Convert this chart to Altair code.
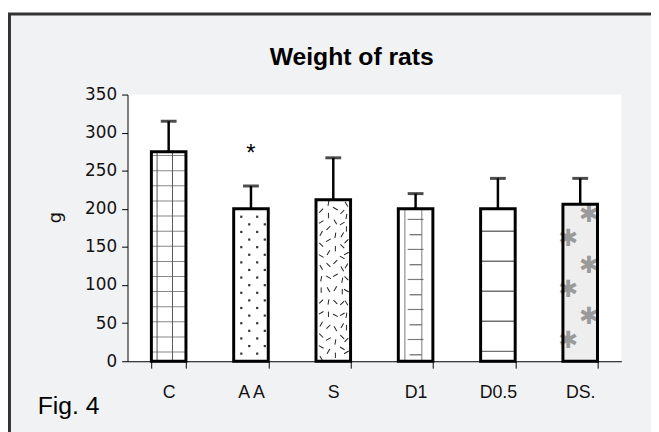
import altair as alt
import pandas as pd

# ---- data ----
CATS = ["C", "A A", "S", "D1", "D0.5", "DS."]
MEANS = [275, 200, 212, 200, 200, 206]
UPPER = [315, 230, 267, 220, 240, 240]
FILLS = ["#ffffff", "#ffffff", "#ffffff", "#ffffff", "#ffffff", "#eeeeee"]
STAR_CAT = "A A"
STAR_Y = 279
Y_TICKS = [0, 50, 100, 150, 200, 250, 300, 350]
TITLE = "Weight of rats"
Y_TITLE = "g"
FIG_LABEL = "Fig. 4"

W, H = 500, 270
YMAX = 350
PX = H / YMAX  # pixels per unit (pattern spacing only)

df = pd.DataFrame({"cat": CATS, "mean": MEANS, "upper": UPPER})
val = dict(zip(CATS, MEANS))

X_AXIS = alt.Axis(zindex=2, labelFont="Liberation Sans Narrow, Liberation Sans", labelFontSize=18,
                  tickSize=7, labelPadding=16, tickBand="extent", domainWidth=1, labelAngle=0,
                  domainColor="#000000", tickColor="#000000", labelColor="#111111")
Y_AXIS = alt.Axis(zindex=2, values=Y_TICKS, labelFont="DejaVu Sans", labelFontSize=17, tickSize=6,
                  labelPadding=5, domainWidth=1, domainColor="#000000", tickColor="#000000",
                  labelColor="#111111", titleFont="DejaVu Sans", titleFontSize=18,
                  titleFontWeight="normal", titleColor="#111111", titleX=-73, titleY=124,
                  titleAlign="center", titleBaseline="middle", titleAngle=270)


def X(bp=0.5):
    return alt.X("cat:N", sort=CATS, bandPosition=bp, title=None, axis=X_AXIS,
                 scale=alt.Scale(domain=CATS, paddingInner=0.58, paddingOuter=0.29))


def Y(field):
    return alt.Y(f"{field}:Q", title=Y_TITLE, axis=Y_AXIS,
                 scale=alt.Scale(domain=[0, YMAX], nice=False))


def steps(start_px, step_px, top):
    out = []
    v = start_px / PX
    while v < top - 2:
        out.append(round(v, 2))
        v += step_px / PX
    return out


layers = []

# frame + white plot area
one = alt.Data(values=[{"a": 1}])
layers.append(alt.Chart(one).mark_rect(fill="#f1f2f4", stroke="#333333", strokeWidth=3).encode(
    x=alt.value(-119.5), x2=alt.value(560), y=alt.value(-81.5), y2=alt.value(420)))
layers.append(alt.Chart(one).mark_rect(fill="#ffffff").encode(
    x=alt.value(0), x2=alt.value(W), y=alt.value(0), y2=alt.value(H)))

# bar fills
layers.append(alt.Chart(df).mark_bar(strokeWidth=0).encode(
    x=X(), y=Y("mean"),
    color=alt.Color("cat:N", scale=alt.Scale(domain=CATS, range=FILLS), legend=None)))


def hticks(cat, ys, bp, size, color, th=1):
    d = pd.DataFrame({"cat": cat, "yy": ys})
    return alt.Chart(d).mark_tick(color=color, size=size, thickness=th, orient="horizontal").encode(
        x=X(bp), y=Y("yy"))


def vline(cat, bp, color, w=1):
    d = pd.DataFrame({"cat": [cat], "y0": [0], "y1": [val[cat]]})
    return alt.Chart(d).mark_rule(color=color, strokeWidth=w).encode(
        x=X(bp), y=Y("y0"), y2="y1:Q")


# C : square grid
layers.append(hticks("C", steps(9.3, 15.3, val["C"]), 0.5, 34, "#555555"))
layers.append(vline("C", 0.165, "#555555"))
layers.append(vline("C", 0.61, "#555555"))

# A A : staggered dots
for j, bps in enumerate([[0.22, 0.68], [0.45, 0.9]]):
    ys = steps(7.7 + j * 7.7, 15.4, val["A A"])
    for bp in bps:
        d = pd.DataFrame({"cat": "A A", "yy": ys})
        layers.append(alt.Chart(d).mark_square(color="#333333", size=5, opacity=1).encode(
            x=X(bp), y=Y("yy")))

# S : scattered short dashes
S_BPS = [0.15, 0.36, 0.56, 0.76, 0.88]
S_ANG = [60, 120, 90, 30, 150, 100, 45, 135]
for j, bp in enumerate(S_BPS):
    ys = steps(3 + (j * 7) % 11, 11.5 + (j % 3), val["S"])
    angs = [S_ANG[(k * 3 + j) % len(S_ANG)] for k in range(len(ys))]
    d = pd.DataFrame({"cat": "S", "yy": ys, "ang": angs})
    layers.append(alt.Chart(d).mark_point(shape="stroke", color="#222222", size=30,
                                          strokeWidth=1, filled=False, opacity=1).encode(
        x=X(bp), y=Y("yy"), angle=alt.Angle("ang:Q", scale=None)))

# D1 : two vertical lines with alternating dashes
layers.append(vline("D1", 0.19, "#777777"))
layers.append(vline("D1", 0.68, "#777777"))
layers.append(hticks("D1", steps(22, 30.4, val["D1"]), 0.3, 16, "#444444", 1.2))
layers.append(hticks("D1", steps(6.5, 30.4, val["D1"]), 0.74, 12, "#222222", 1.2))

# D0.5 : widely spaced horizontal lines
layers.append(hticks("D0.5", steps(10, 30.4, val["D0.5"]), 0.5, 34, "#333333", 1.5))

# DS. : grey star motifs
v = val["DS."]
for bp, first in [(0.75, 14), (0.15, 46)]:
    ys = []
    y = v - first
    while y > 8:
        ys.append(y)
        y -= 67
    d = pd.DataFrame({"cat": "DS.", "yy": ys, "t": "✱"})
    layers.append(alt.Chart(d).mark_text(color="#9a9a9a", fontSize=24, font="DejaVu Sans",
                                         baseline="middle").encode(
        x=X(bp), y=Y("yy"), text="t:N"))

# bar outlines
layers.append(alt.Chart(df).mark_bar(fillOpacity=0, stroke="#000000", strokeWidth=3).encode(
    x=X(), y=Y("mean")))

# error bars
layers.append(alt.Chart(df).mark_rule(color="#000000", strokeWidth=2.5).encode(
    x=X(), y=Y("mean"), y2="upper:Q"))
layers.append(alt.Chart(df).mark_tick(color="#000000", size=16, thickness=3, orient="horizontal").encode(
    x=X(), y=Y("upper")))

# significance star
star = pd.DataFrame({"cat": [STAR_CAT], "yy": [STAR_Y], "t": ["*"]})
layers.append(alt.Chart(star).mark_text(fontSize=24, font="Liberation Sans", baseline="middle",
                                        dy=6, color="#000000").encode(
    x=X(), y=Y("yy"), text="t:N"))

# title and figure label
txt = pd.DataFrame({"title": [TITLE], "fig": [FIG_LABEL]})
layers.append(alt.Chart(txt).mark_text(fontSize=25, font="Liberation Sans", fontWeight="bold",
                                       align="center", baseline="alphabetic", color="#000000").encode(
    x=alt.value(227), y=alt.value(-30), text="title:N"))
layers.append(alt.Chart(txt).mark_text(fontSize=25, font="Liberation Sans", align="left",
                                       baseline="alphabetic", color="#000000").encode(
    x=alt.value(-91), y=alt.value(323), text="fig:N"))

chart = alt.layer(*layers).properties(
    width=W, height=H,
    autosize=alt.AutoSizeParams(type="none"),
    padding={"left": 121, "top": 85, "right": 30, "bottom": 69},
).configure(background="#ffffff").configure_view(stroke=None).configure_axis(grid=False)

chart.save("out.html", embed_options={"renderer": "svg", "actions": False})
